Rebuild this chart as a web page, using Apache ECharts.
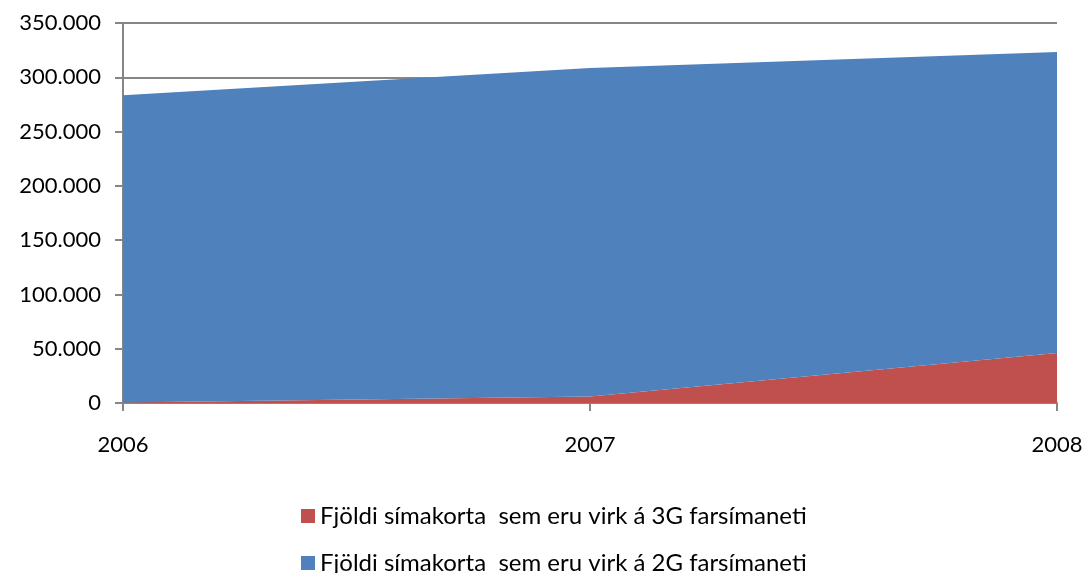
<!DOCTYPE html>
<html><head><meta charset="utf-8">
<script src="https://cdn.jsdelivr.net/npm/echarts@6/dist/echarts.min.js"></script>
<style>html,body{margin:0;padding:0;background:#fff}#c{width:1088px;height:573px}</style>
</head><body><div id="c"></div>
<script>
const categories = ['2006', '2007', '2008'];
const series3G = [500, 6000, 46000];
const series2G = [283000, 302500, 277300];
const name3G = 'Fjöldi símakorta  sem eru virk á 3G farsímaneti';
const name2G = 'Fjöldi símakorta  sem eru virk á 2G farsímaneti';
const yTicks = { min: 0, max: 350000, interval: 50000 };

function fmt(v){ return String(v).replace(/\B(?=(\d{3})+(?!\d))/g, '.'); }
const FONT = 'Lato';
const legendBase = {
  orient: 'vertical', left: 296,
  itemWidth: 14, itemHeight: 14, icon: 'rect',
  textStyle: { color: '#000', fontFamily: FONT, fontSize: 24 }
};
const chart = echarts.init(document.getElementById('c'), null, {renderer:'canvas'});
chart.setOption({
  animation: false,
  backgroundColor: '#fff',
  grid: { left: 123, right: 31, top: 23, bottom: 170, containLabel: false },
  xAxis: {
    type: 'category', data: categories, boundaryGap: false,
    axisLine: { lineStyle: { color: '#868686', width: 2 } },
    axisTick: { show: true, length: 8, lineStyle: { color: '#868686', width: 2 } },
    axisLabel: { color: '#000', fontFamily: FONT, fontSize: 22, margin: 31 },
    splitLine: { show: false }
  },
  yAxis: {
    type: 'value', min: yTicks.min, max: yTicks.max, interval: yTicks.interval,
    axisLine: { show: true, lineStyle: { color: '#868686', width: 2 } },
    axisTick: { show: true, length: 8, lineStyle: { color: '#868686', width: 2 } },
    axisLabel: { color: '#000', fontFamily: FONT, fontSize: 22, margin: 22, formatter: fmt },
    splitLine: { show: true, lineStyle: { color: '#868686', width: 2 } }
  },
  legend: [
    Object.assign({}, legendBase, { top: 499, data: [name3G] }),
    Object.assign({}, legendBase, { top: 546, data: [name2G] })
  ],
  series: [
    { name: name3G, type: 'line', stack: 't', data: series3G, symbol: 'none',
      lineStyle: { width: 0 }, itemStyle: { color: '#C0504D' },
      areaStyle: { color: '#C0504D', opacity: 1 } },
    { name: name2G, type: 'line', stack: 't', data: series2G, symbol: 'none',
      lineStyle: { width: 0 }, itemStyle: { color: '#4F81BD' },
      areaStyle: { color: '#4F81BD', opacity: 1 } }
  ]
});
</script></body></html>
